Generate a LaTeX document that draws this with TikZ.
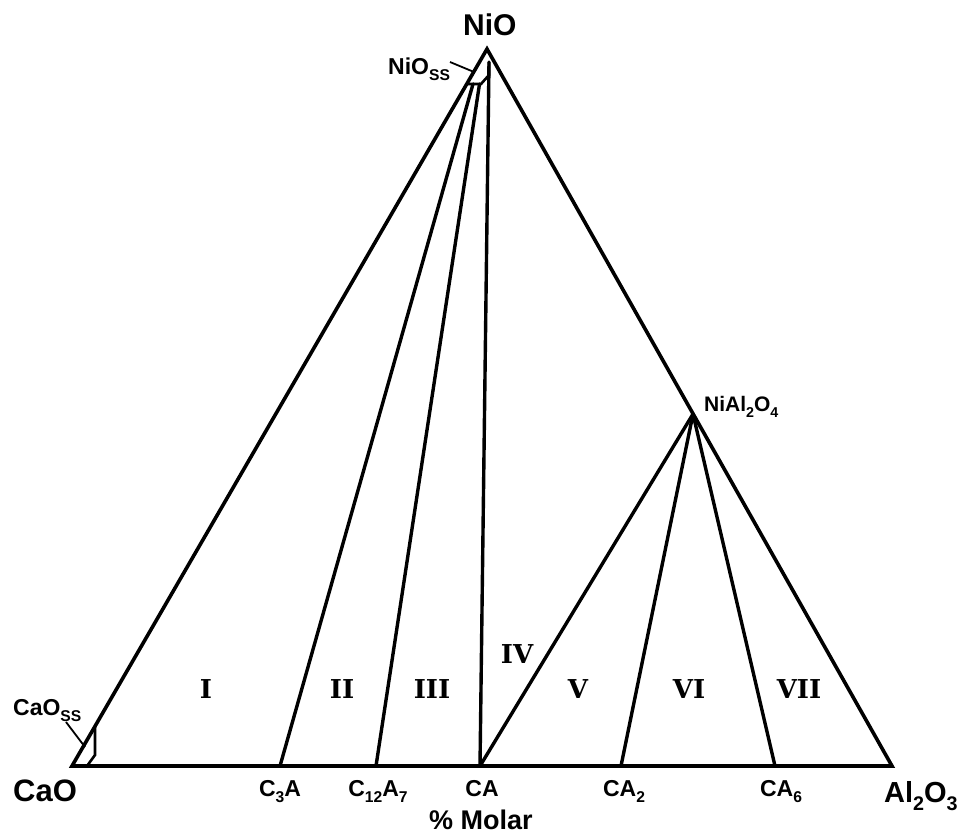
\documentclass[tikz,border=0pt]{standalone}
\usepackage{fontspec}
\setmainfont{Liberation Sans}
\newfontfamily\romfont{DejaVu Serif}
\newcommand\lsub[1]{\raisebox{-0.3em}{\scalebox{0.68}{#1}}}
\newcommand\fs[1]{\fontsize{#1}{#1}\selectfont\bfseries}
\begin{document}
\begin{tikzpicture}[x=1pt,y=-1pt,
  edge/.style={line width=3.6pt,line join=miter,line cap=butt},
  tie/.style={line width=3.4pt,line cap=round},
  small/.style={line width=2.6pt,line join=miter},
  leader/.style={line width=1.8pt},
  lab/.style={inner sep=0pt,anchor=base west},
  blab/.style={inner sep=0pt,anchor=base},
  rom/.style={inner sep=0pt,anchor=base,font=\romfont\fs{26}}]
\useasboundingbox (0,0) rectangle (971,836);
% corners
\coordinate (A) at (487,49);
\coordinate (B) at (72,766);
\coordinate (C) at (892,766);
\coordinate (N) at (693,414);
% base points
\coordinate (C3A) at (280,766);
\coordinate (C12A7) at (376,766);
\coordinate (CA) at (480,766);
\coordinate (CA2) at (621,766);
\coordinate (CA6) at (775,766);
% NiO ss region
\coordinate (s1) at (467,84);
\coordinate (s2) at (481,84);
\coordinate (s3) at (489,75);
\coordinate (s4) at (489,62);
\coordinate (p1) at (473,84);
\coordinate (p2) at (479.5,84);
% CaO ss region
\coordinate (c1) at (95,727);
\coordinate (c2) at (95,755);
\coordinate (c3) at (87,766);
% leaders
\coordinate (l1) at (450,62);
\coordinate (l2) at (474,72);
\coordinate (l3) at (66,722);
\coordinate (l4) at (85,747);

\draw[edge] (B) -- (A) -- (C) -- cycle;
\draw[small] (s1) -- (s2) -- (s3) -- (s4);
\draw[small] (c1) -- (c2) -- (c3);
\draw[tie] (p1) -- (C3A);
\draw[tie] (p2) -- (C12A7);
\draw[tie] (s4) -- (CA);
\draw[tie] (N) -- (CA);
\draw[tie] (N) -- (CA2);
\draw[tie] (N) -- (CA6);
\draw[leader] (l1) -- (l2);
\draw[leader] (l3) -- (l4);

% labels
\node[lab,font=\fs{30}] (tNiO) at (463,35) {NiO};
\node[lab,font=\fs{23}] (tNiOss) at (388,74) {NiO\lsub{SS}};
\node[lab,font=\fs{21}] (tNiAl) at (704,411) {NiAl\lsub{2}O\lsub{4}};
\node[lab,font=\fs{23}] (tCaOss) at (13,715) {CaO\lsub{SS}};
\node[lab,font=\fs{31}] (tCaO) at (13,801) {CaO};
\node[lab,font=\fs{29}] (tAl) at (884,802) {Al\lsub{2}O\lsub{3}};
\node[blab,font=\fs{23}] (tC3A) at (280,796) {C\lsub{3}A};
\node[blab,font=\fs{23}] (tC12A7) at (378,796) {C\lsub{12}A\lsub{7}};
\node[blab,font=\fs{23}] (tCA) at (482,796) {CA};
\node[blab,font=\fs{23}] (tCA2) at (624,796) {CA\lsub{2}};
\node[blab,font=\fs{23}] (tCA6) at (781,796) {CA\lsub{6}};
\node[blab,font=\fs{27}] (tMolar) at (481,829) {\% Molar};
% regions
\node[rom] (r1) at (206,698) {I};
\node[rom] (r2) at (342,698) {II};
\node[rom] (r3) at (432,698) {III};
\node[rom] (r4) at (517,663) {IV};
\node[rom] (r5) at (578,698) {V};
\node[rom] (r6) at (689,698) {VI};
\node[rom] (r7) at (799,698) {VII};
\end{tikzpicture}
\end{document}
